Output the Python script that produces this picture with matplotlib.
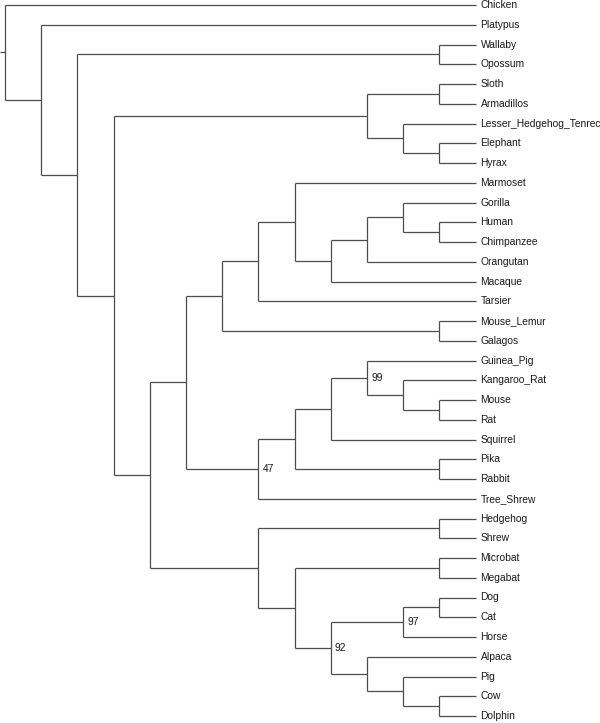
import matplotlib
matplotlib.use("Agg")
import matplotlib.pyplot as plt

# tree topology (newick), split by clade; numbers after ")" are bootstrap values
atlantogenata = "((Sloth,Armadillos),(Lesser_Hedgehog_Tenrec,(Elephant,Hyrax)))"
primates = "(((Marmoset,(((Gorilla,(Human,Chimpanzee)),Orangutan),Macaque)),Tarsier),(Mouse_Lemur,Galagos))"
glires = "((((Guinea_Pig,(Kangaroo_Rat,(Mouse,Rat)))99,Squirrel),(Pika,Rabbit)),Tree_Shrew)47"
laurasiatheria = "((Hedgehog,Shrew),((Microbat,Megabat),(((Dog,Cat),Horse)97,(Alpaca,(Pig,(Cow,Dolphin))))92))"
boreoeutheria = "((" + primates + "," + glires + ")," + laurasiatheria + ")"
tree_str = "(Chicken,(Platypus,((Wallaby,Opossum),(" + atlantogenata + "," + boreoeutheria + "))));"


def parse(s, i=0):
    node = {"children": [], "name": ""}
    if s[i] == "(":
        i += 1
        while True:
            child, i = parse(s, i)
            node["children"].append(child)
            if s[i] == ",":
                i += 1
                continue
            i += 1  # ')'
            break
    j = i
    while i < len(s) and s[i] not in ",);":
        i += 1
    node["name"] = s[j:i]
    return node, i


root, _ = parse(tree_str)

# layout: leaves in order, nodes placed by height (cladogram, tips aligned)
counter = [0]


def layout(node):
    if not node["children"]:
        node["y"] = counter[0]
        counter[0] += 1
        node["h"] = 0
        return
    for c in node["children"]:
        layout(c)
    node["h"] = 1 + max(c["h"] for c in node["children"])
    node["y"] = (node["children"][0]["y"] + node["children"][-1]["y"]) / 2


layout(root)
top_h = root["h"]

fig = plt.figure(figsize=(6, 7.23), dpi=100)
ax = fig.add_axes([0, 0, 1, 1])
line_kw = dict(color="#4d4d4d", lw=0.9, solid_capstyle="butt")
text_kw = dict(fontsize=7.4, family=["Liberation Sans", "DejaVu Sans"], color="#1a1a1a", va="center")


def draw(node):
    x = top_h - node["h"]
    if not node["children"]:
        ax.annotate(node["name"], (x, node["y"]), xytext=(3.6, 0),
                    textcoords="offset points", **text_kw)
        return
    ys = [c["y"] for c in node["children"]]
    ax.plot([x, x], [min(ys), max(ys)], **line_kw)
    for c in node["children"]:
        ax.plot([x, top_h - c["h"]], [c["y"], c["y"]], **line_kw)
        draw(c)
    if node["name"]:
        ax.annotate(node["name"], (x, node["y"]), xytext=(3.0, 0),
                    textcoords="offset points", **text_kw)


draw(root)
ax.plot([-0.14, 0], [root["y"], root["y"]], **line_kw)

px_x = 36.2   # pixels per level
px_y = 19.75  # pixels per leaf
ax.set_xlim(-5 / px_x, (600 - 5) / px_x)
ax.set_ylim((723 - 5) / px_y, -5 / px_y)
ax.axis("off")

fig.savefig("out.png", dpi=100)
